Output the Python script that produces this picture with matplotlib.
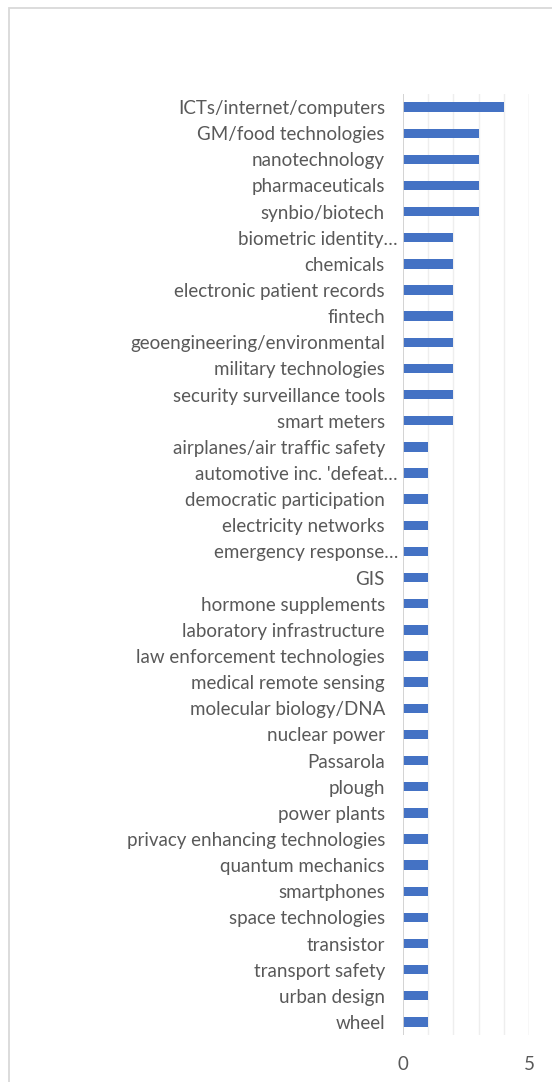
import matplotlib
matplotlib.use("Agg")
import matplotlib.pyplot as plt
from matplotlib.patches import Rectangle
import matplotlib.transforms as mtransforms

categories = [
    "ICTs/internet/computers", "GM/food technologies", "nanotechnology",
    "pharmaceuticals", "synbio/biotech", "biometric identity…", "chemicals",
    "electronic patient records", "fintech", "geoengineering/environmental",
    "military technologies", "security surveillance tools", "smart meters",
    "airplanes/air traffic safety", "automotive inc. 'defeat…",
    "democratic participation", "electricity networks", "emergency response…",
    "GIS", "hormone supplements", "laboratory infrastructure",
    "law enforcement technologies", "medical remote sensing",
    "molecular biology/DNA", "nuclear power", "Passarola", "plough",
    "power plants", "privacy enhancing technologies", "quantum mechanics",
    "smartphones", "space technologies", "transistor", "transport safety",
    "urban design", "wheel",
]
values = [4, 3, 3, 3, 3, 2, 2, 2, 2, 2, 2, 2, 2,
          1, 1, 1, 1, 1, 1, 1, 1, 1, 1, 1, 1, 1, 1, 1, 1, 1, 1, 1, 1, 1, 1, 1]
x_ticks = [0, 5]

plt.rcParams['font.family'] = ['Lato', 'DejaVu Sans']
W, H = 552, 1082
fig = plt.figure(figsize=(W / 100, H / 100), dpi=100)

# chart-area border (top and left visible)
fig.patches.append(Rectangle((8.5 / W, -0.1), 2.0, 1 - 7.5 / H + 0.1,
                             transform=fig.transFigure, fill=False,
                             edgecolor='#d9d9d9', linewidth=1.3))

ax = fig.add_axes([403 / W, 1 - 1035 / H, (529 - 403) / W, (1035 - 94) / H])
n = len(categories)
ypos = list(range(n))
ax.barh(ypos, values, height=0.36, color='#4472C4', zorder=3)
ax.set_ylim(n - 0.5, -0.5)
ax.set_xlim(0, 5)

for v in [1, 2, 3, 4]:
    ax.axvline(v, color='#eeeeee', linewidth=1.0, zorder=1)
ax.axvline(5, color='#d9d9d9', linewidth=1.0, zorder=1)
ax.axvline(0, color='#d0d0d0', linewidth=1.3, zorder=4)

for s in ax.spines.values():
    s.set_visible(False)

ax.set_yticks(ypos)
ax.set_yticklabels(categories)
ax.set_xticks(x_ticks)
ax.set_xticklabels([str(t) for t in x_ticks])
ax.tick_params(axis='y', length=0, pad=13, labelsize=13.5, labelcolor='#595959')
ax.tick_params(axis='x', length=0, pad=15, labelsize=13.5, labelcolor='#595959')

for lab in ax.get_yticklabels():
    if lab.get_text().endswith('…'):
        lab.set_transform(lab.get_transform() + mtransforms.ScaledTranslation(13 / 100, 0, fig.dpi_scale_trans))

fig.savefig("out.png", dpi=100)
